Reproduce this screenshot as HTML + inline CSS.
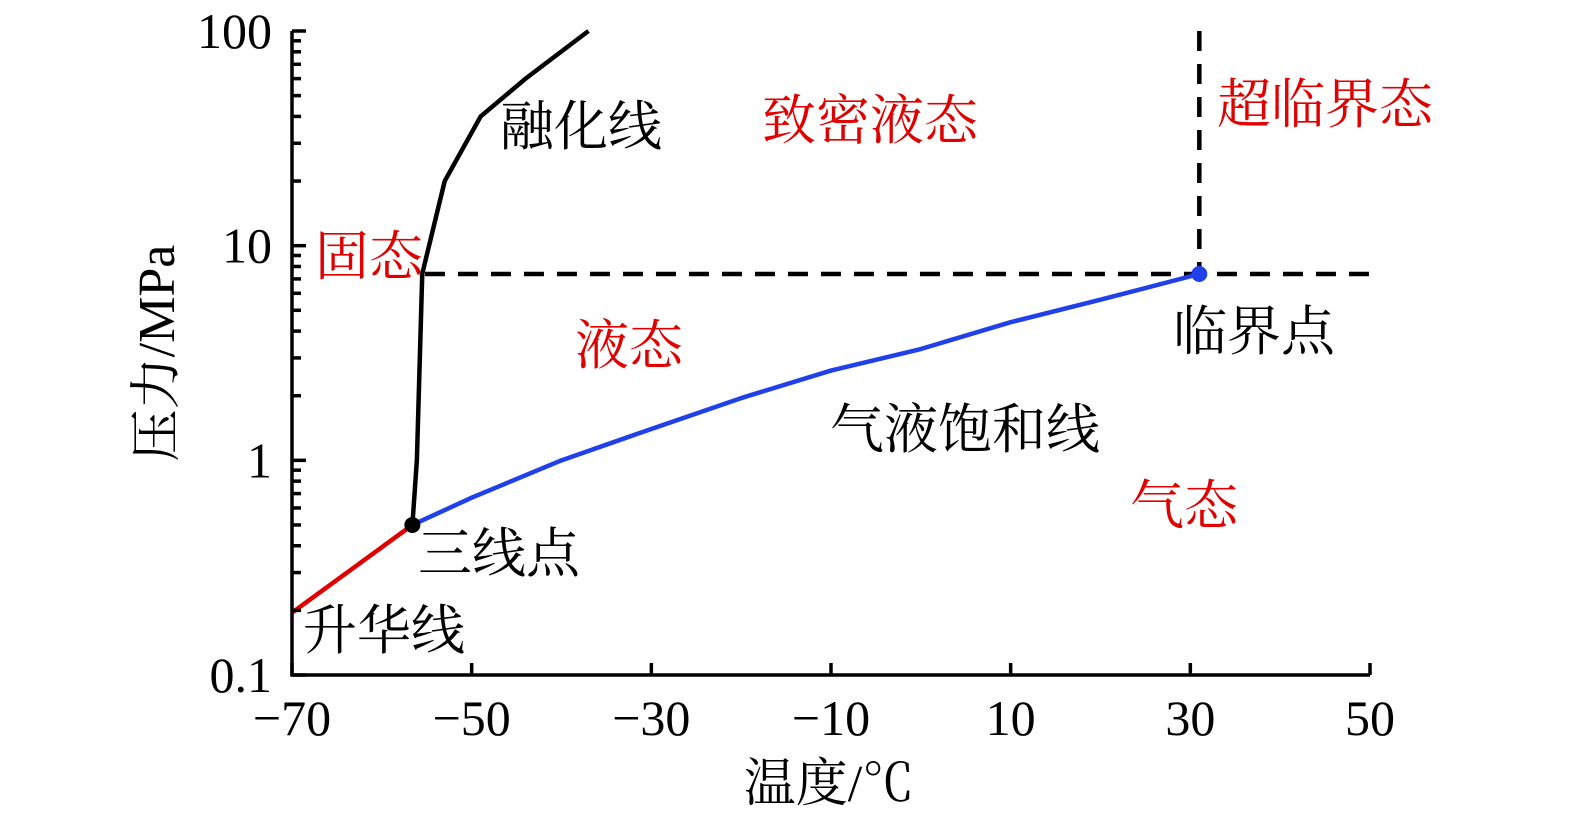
<!DOCTYPE html>
<html><head><meta charset="utf-8"><style>
html,body{margin:0;padding:0;background:#fff;width:1575px;height:821px;overflow:hidden}
svg{display:block}
svg text{font-family:"Liberation Serif","Noto Serif CJK SC",serif}
</style></head><body>
<svg id="chart" width="1575" height="821" viewBox="0 0 1575 821" xmlns="http://www.w3.org/2000/svg"></svg>
<script>
const xTicks=[-70,-50,-30,-10,10,30,50];
const yTicks=[0.1,1,10,100];
const yTickLabels=["0.1","1","10","100"];
const sublimationT=[-70,-56.6];
const sublimationP=[0.195,0.5];
const saturationT=[-56.6,-50,-40,-30,-20,-10,0,10,20,31];
const saturationP=[0.5,0.67,1.0,1.4,1.95,2.62,3.3,4.4,5.6,7.38];
const meltingT=[-56.6,-56.1,-55.5,-53,-49,-44,-37];
const meltingP=[0.5,1.0,7.4,20,40,60,100];
const criticalT=31, criticalP=7.38;
const tripleT=-56.6, tripleP=0.5;
const NS="http://www.w3.org/2000/svg";
const svg=document.getElementById('chart');
const X0=292,X1=1370,Y0=675,Y1=31;
const xs=t=>X0+(t+70)/120*(X1-X0);
const ys=p=>Y0-(Math.log10(p)+1)/3*(Y0-Y1);
function mk(tag,attrs,txt){const e=document.createElementNS(NS,tag);for(const k in attrs)e.setAttribute(k,attrs[k]);if(txt!==undefined)e.textContent=txt;svg.appendChild(e);return e;}
function poly(T,P,color,name){const e=mk('polyline',{points:T.map((t,i)=>xs(t)+','+ys(P[i])).join(' '),fill:'none',stroke:color,'stroke-width':4.5,'stroke-linejoin':'round'});

}
let d1=mk('line',{x1:xs(-55.2),y1:ys(criticalP),x2:X1,y2:ys(criticalP),stroke:'#000','stroke-width':4.5,'stroke-dasharray':'20 13'});


let d2=mk('line',{x1:xs(criticalT),y1:Y1,x2:xs(criticalT),y2:ys(criticalP),stroke:'#000','stroke-width':4.5,'stroke-dasharray':'20 13'});


poly(sublimationT,sublimationP,'#e00000','sublimation-line');
poly(saturationT,saturationP,'#2040e8','saturation-line');
poly(meltingT,meltingP,'#000','melting-line');
let c1=mk('circle',{cx:xs(tripleT),cy:ys(tripleP),r:8,fill:'#000'});


let c2=mk('circle',{cx:xs(criticalT),cy:ys(criticalP),r:8,fill:'#2040e8'});


let ax=mk('path',{d:`M${X0},${Y1}V${Y0}H${X1}`,fill:'none',stroke:'#000','stroke-width':3.5});


xTicks.forEach(t=>{
 const l=mk('line',{x1:xs(t),y1:Y0,x2:xs(t),y2:Y0-12,stroke:'#000','stroke-width':3.5});
 
 
 const tx=mk('text',{x:xs(t),y:Y0+60,'font-size':50,'text-anchor':'middle'},(t<0?'\u2212'+(-t):''+t));
 
 
});
yTicks.forEach((p,i)=>{
 const l=mk('line',{x1:X0,y1:ys(p),x2:X0+14,y2:ys(p),stroke:'#000','stroke-width':3.5});
 
 
 const tx=mk('text',{x:X0-20,y:ys(p)+17,'font-size':50,'text-anchor':'end'},yTickLabels[i]);
 
 
 if(i<yTicks.length-1){for(let m=2;m<=9;m++){
  const ml=mk('line',{x1:X0,y1:ys(p*m),x2:X0+9,y2:ys(p*m),stroke:'#000','stroke-width':3.5});
  
  }}
});
const labels=[["融化线",500,145,'#000','melting-line-label'],["致密液态",762,139,'#e00000','dense-liquid-label'],["超临界态",1217,123,'#e00000','supercritical-label'],
["固态",315,275,'#e00000','solid-label'],["液态",575,364,'#e00000','liquid-label'],["临界点",1173,350,'#000','critical-point-label'],
["气液饱和线",830,448,'#000','saturation-line-label'],["气态",1130,524,'#e00000','gas-label'],["三线点",418,572,'#000','triple-point-label'],["升华线",303,649,'#000','sublimation-line-label']];
labels.forEach(a=>{const t=mk('text',{x:a[1],y:a[2],'font-size':54,fill:a[3]},a[0]);

});
let xt=mk('text',{x:829,y:801,'font-size':52,'text-anchor':'middle'},"温度/℃");


let yt=mk('text',{x:0,y:0,'font-size':52,'text-anchor':'middle',transform:'translate(174,353) rotate(-90)'},"压力/MPa");


</script>
</body></html>
